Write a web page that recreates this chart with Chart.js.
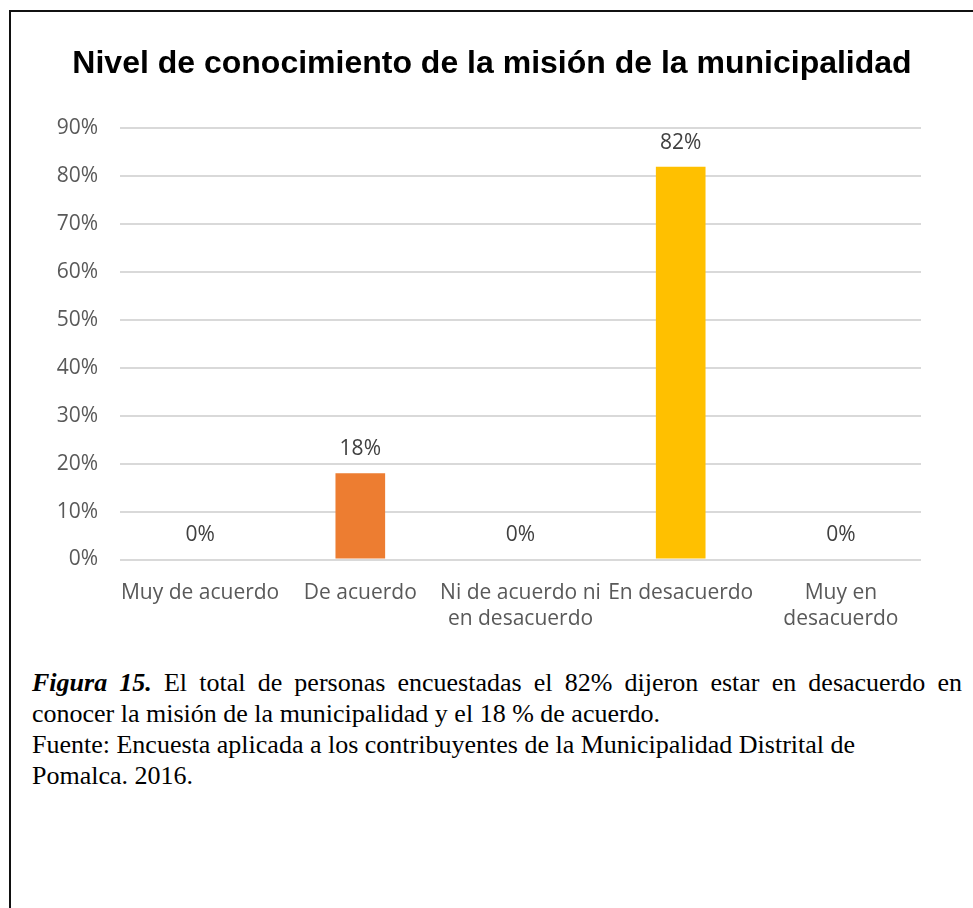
<!DOCTYPE html>
<html>
<head>
<meta charset="utf-8">
<script src="https://cdn.jsdelivr.net/npm/chart.js@4.4.0/dist/chart.umd.min.js"></script>
<style>
    html, body { margin: 0; padding: 0; background: #fff; }
    .marco {
        position: absolute;
        left: 9px;
        top: 10px;
        width: 962px;
        height: 898px;
        border-top: 2px solid #111;
        border-left: 2px solid #111;
    }
    .grafico { position: absolute; left: 0; top: 0; width: 962px; height: 651px; }
    .nota {
        position: absolute;
        left: 21px;
        top: 655px;
        font-family: "Liberation Serif", "Times New Roman", serif;
        font-size: 26px;
        line-height: 31px;
        color: #000;
    }
    .nota .justificada {
        width: 930px;
        text-align: justify;
        text-align-last: justify;
        white-space: normal;
    }
    .nota div { white-space: nowrap; }
</style>
</head>
<body>
<div class="marco">
    <div class="grafico"><canvas id="mision"></canvas></div>
    <div class="nota">
        <div class="justificada"><b><i>Figura 15.</i></b> El total de personas encuestadas el 82% dijeron estar en desacuerdo en</div>
        <div>conocer la misión de la municipalidad y el 18 % de acuerdo.</div>
        <div>Fuente: Encuesta aplicada a los contribuyentes de la Municipalidad Distrital de</div>
        <div>Pomalca. 2016.</div>
    </div>
</div>
<script>
// Nivel de conocimiento de la misión - datos de la encuesta
const categorias = [
    'Muy de acuerdo',
    'De acuerdo',
    ['Ni de acuerdo ni', 'en desacuerdo'],
    'En desacuerdo',
    ['Muy en', 'desacuerdo']
];
const porcentajes = [0, 18, 0, 82, 0];
const coloresBarra = ['#5B9BD5', '#ED7D31', '#A5A5A5', '#FFC000', '#4472C4'];
const marcasEje = [0, 10, 20, 30, 40, 50, 60, 70, 80, 90];

const fuenteEje = 'Open Sans';

// etiquetas de valor encima de cada barra
const etiquetasValor = {
    id: 'etiquetasValor',
    afterDatasetsDraw(chart) {
        const ctx = chart.ctx;
        const meta = chart.getDatasetMeta(0);
        ctx.save();
        ctx.font = '21px "' + fuenteEje + '"';
        ctx.fillStyle = '#404040';
        ctx.textAlign = 'center';
        ctx.textBaseline = 'middle';
        meta.data.forEach((bar, i) => {
            ctx.fillText(porcentajes[i] + '%', bar.x, bar.y - 24);
        });
        ctx.restore();
    }
};

const canvas = document.getElementById('mision');
new Chart(canvas.getContext('2d'), {
    type: 'bar',
    data: {
        labels: categorias,
        datasets: [{
            data: porcentajes,
            backgroundColor: coloresBarra,
            borderWidth: 0,
            categoryPercentage: 1,
            barPercentage: 0.31
        }]
    },
    options: {
        responsive: true,
        maintainAspectRatio: false,
        animation: false,
        layout: { padding: { top: 0, left: 0, right: 0, bottom: 11 } },
        plugins: {
            legend: { display: false },
            tooltip: { enabled: false },
            title: {
                display: true,
                text: 'Nivel de conocimiento de la misión de la municipalidad',
                color: '#000',
                font: { family: 'Liberation Sans', size: 32, weight: 'bold', lineHeight: 1.2 },
                padding: { top: 33, bottom: 45 }
            }
        },
        scales: {
            y: {
                min: 0,
                max: 90,
                afterFit(scale) { scale.width = 109; },
                afterBuildTicks(scale) {
                    scale.ticks = marcasEje.map(v => ({ value: v }));
                },
                ticks: {
                    padding: 22,
                    color: '#595959',
                    font: { family: fuenteEje, size: 21 },
                    callback: v => v + '%'
                },
                grid: { color: '#d9d9d9', lineWidth: 2, drawTicks: false },
                border: { display: false }
            },
            // margen derecho vacío, así el título queda centrado en todo el lienzo
            derecha: {
                type: 'linear',
                position: 'right',
                afterFit(scale) { scale.width = 52; },
                ticks: { display: false },
                grid: { display: false, drawTicks: false },
                border: { display: false }
            },
            x: {
                ticks: {
                    padding: 20,
                    color: '#595959',
                    maxRotation: 0,
                    autoSkip: false,
                    font: { family: fuenteEje, size: 21, lineHeight: 1.25 }
                },
                grid: { display: false, drawTicks: false },
                border: { display: false }
            }
        }
    },
    plugins: [etiquetasValor]
});
</script>
</body>
</html>
